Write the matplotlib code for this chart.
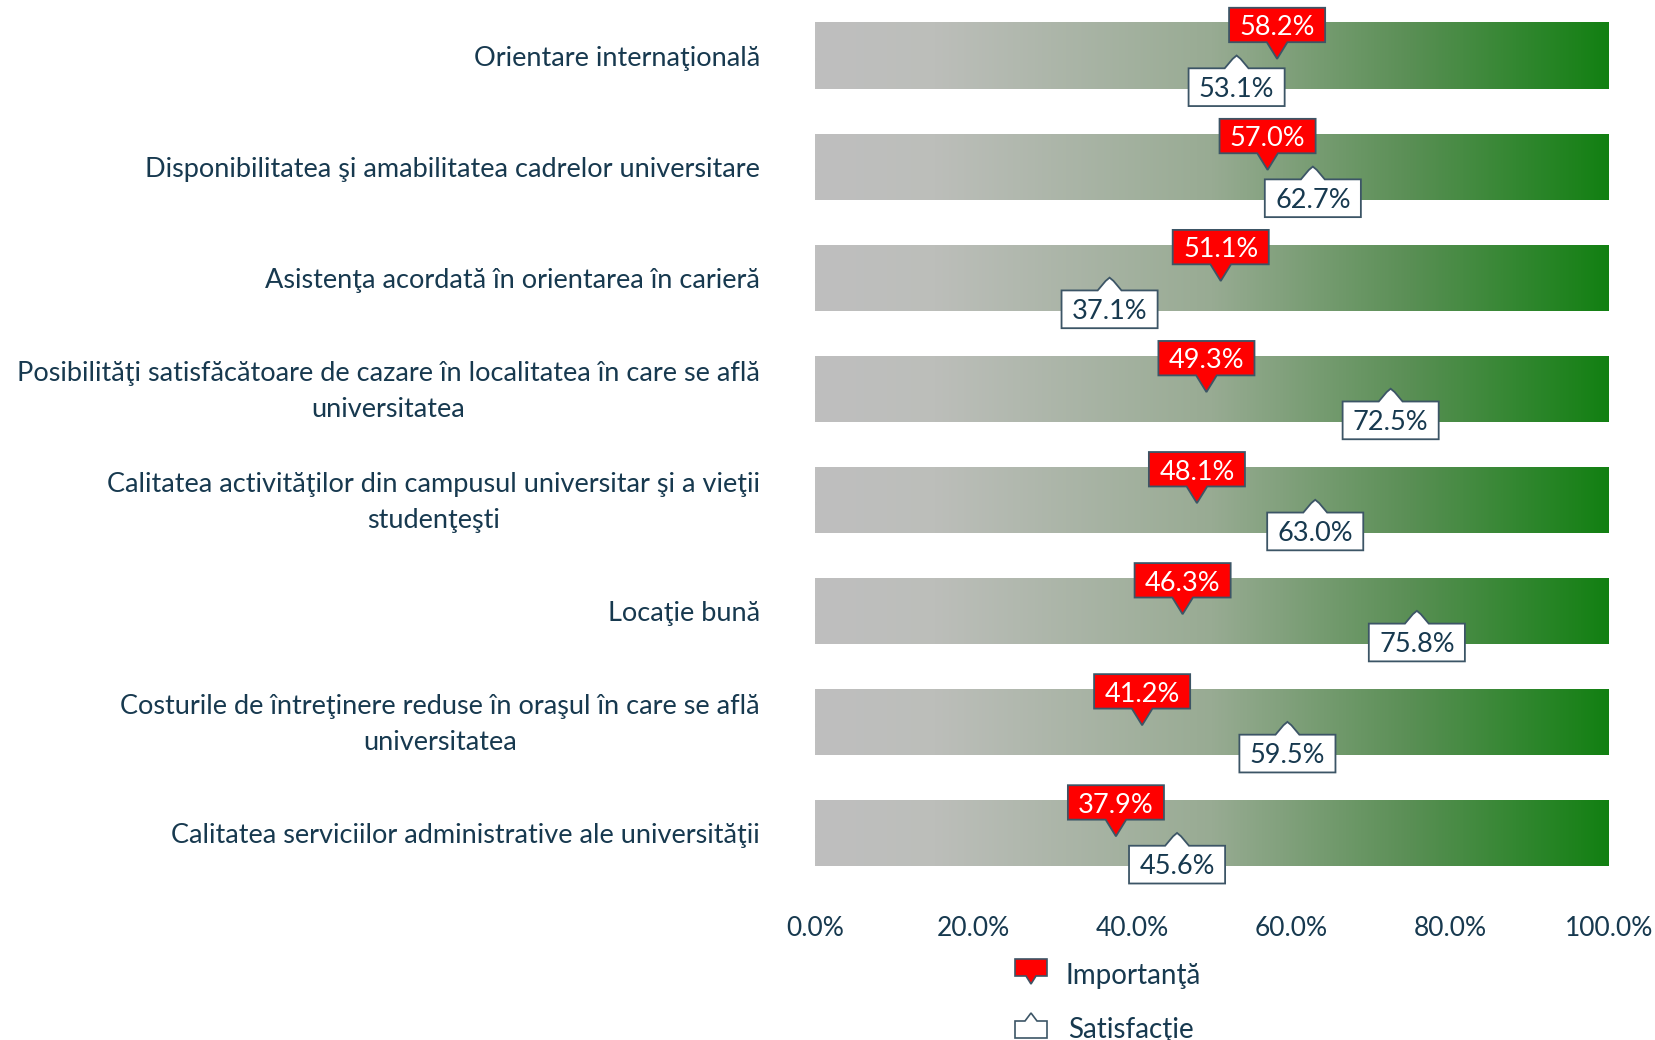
import numpy as np
import matplotlib
matplotlib.use("Agg")
import matplotlib.pyplot as plt
from matplotlib.patches import Polygon
from matplotlib.colors import LinearSegmentedColormap

categories = [
    "Orientare internaţională",
    "Disponibilitatea şi amabilitatea cadrelor universitare",
    "Asistenţa acordată în orientarea în carieră",
    "Posibilităţi satisfăcătoare de cazare în localitatea în care se află\nuniversitatea",
    "Calitatea activităţilor din campusul universitar şi a vieţii\nstudenţeşti",
    "Locaţie bună",
    "Costurile de întreţinere reduse în oraşul în care se află\nuniversitatea",
    "Calitatea serviciilor administrative ale universităţii",
]
importanta = [58.2, 57.0, 51.1, 49.3, 48.1, 46.3, 41.2, 37.9]
satisfactie = [53.1, 62.7, 37.1, 72.5, 63.0, 75.8, 59.5, 45.6]
xticks = [0, 20, 40, 60, 80, 100]
legend_labels = ["Importanţă", "Satisfacţie"]

TXT = "#17394F"
EDGE = "#3C5566"
RED = "#FF0000"
plt.rcParams['font.family'] = ['Lato', 'DejaVu Sans']

W, H = 1655, 1040
fig = plt.figure(figsize=(W / 100, H / 100), dpi=100)
ax_left, ax_right = 815, 1609
ax_top, ax_bot = 0, 888.5
ax = fig.add_axes([ax_left / W, 1 - ax_bot / H, (ax_right - ax_left) / W, (ax_bot - ax_top) / H])
n = len(categories)
for s in ax.spines.values():
    s.set_visible(False)

cmap = LinearSegmentedColormap.from_list("g", [
    (0.0, (191/255, 191/255, 191/255)),
    (0.15, (188/255, 190/255, 186/255)),
    (0.5, (152/255, 171/255, 147/255)),
    (0.75, (90/255, 143/255, 85/255)),
    (1.0, (18/255, 128/255, 18/255)),
])
grad = np.linspace(0, 1, 512).reshape(1, -1)
bh = 0.595
ys = np.arange(n)
bars = ax.barh(ys, [100] * n, height=bh, color="none", edgecolor="none")
for b in bars:
    x0, y0 = b.get_x(), b.get_y()
    im = ax.imshow(grad, cmap=cmap, aspect="auto", interpolation="bilinear",
                   extent=(x0, x0 + b.get_width(), y0 + b.get_height(), y0), zorder=1)
    im.set_clip_path(b)
ax.set_ylim(n - 0.5, -0.5)
ax.set_xlim(0, 100)

ax.set_xticks(xticks)
ax.set_xticklabels([f"{t:.1f}%" for t in xticks], color=TXT, fontsize=19)
ax.tick_params(axis="x", length=0, pad=20)
ax.set_yticks([])

for i, c in enumerate(categories):
    ax.text(-55 / 794, i + 0.025, c, transform=ax.get_yaxis_transform(), ha="right", va="center",
            multialignment="center", color=TXT, fontsize=19.5, linespacing=1.55)

bw = 12.1 / 2   # half box width (data units)
pw = 1.3        # half pointer width
for i, (vi, vs) in enumerate(zip(importanta, satisfactie)):
    # red callout, above, pointer down
    top, bot, tip = i - 0.43, i - 0.12, i + 0.03
    poly = [(vi - bw, top), (vi + bw, top), (vi + bw, bot), (vi + pw, bot), (vi, tip),
            (vi - pw, bot), (vi - bw, bot)]
    ax.add_patch(Polygon(poly, closed=True, facecolor=RED, edgecolor=EDGE, lw=1.3, zorder=4))
    ax.text(vi, (top + bot) / 2 + 0.025, f"{vi:.1f}%", ha="center", va="center",
            color="white", fontsize=19.5, zorder=5)
    # white callout, below, pointer up
    top, bot, tip = i + 0.115, i + 0.455, i + 0.0
    pwl = 1.5
    poly = [(vs - bw, top), (vs - pwl, top), (vs - 0.5, tip + 0.03), (vs, tip), (vs + 0.5, tip + 0.03),
            (vs + pwl, top), (vs + bw, top), (vs + bw, bot), (vs - bw, bot)]
    ax.add_patch(Polygon(poly, closed=True, facecolor="white", edgecolor=EDGE, lw=1.3, zorder=4))
    ax.text(vs, (top + bot) / 2 + 0.02, f"{vs:.1f}%", ha="center", va="center",
            color=TXT, fontsize=19.5, zorder=5)

# legend
def fx(px):
    return px / W

def fy(py):
    return 1 - py / H

x0, x1 = 1015, 1047
t, b_, tip = 959, 976, 984
xm = (x0 + x1) / 2
red_icon = [(x0, t), (x1, t), (x1, b_), (xm + 5, b_), (xm, tip), (xm - 5, b_), (x0, b_)]
fig.patches.append(Polygon([(fx(x), fy(y)) for x, y in red_icon], closed=True,
                           transform=fig.transFigure, facecolor=RED, edgecolor=EDGE, lw=1.2))
fig.text(fx(1066), fy(976), legend_labels[0], color=TXT, fontsize=20, va="center", ha="left")
t, b_, tip = 1021, 1038, 1013
wicon = [(x0, t), (xm - 6, t), (xm, tip), (xm + 6, t), (x1, t), (x1, b_), (x0, b_)]
fig.patches.append(Polygon([(fx(x), fy(y)) for x, y in wicon], closed=True,
                           transform=fig.transFigure, facecolor="white", edgecolor=EDGE, lw=1.2))
fig.text(fx(1068), fy(1030), legend_labels[1], color=TXT, fontsize=20, va="center", ha="left")

fig.savefig("out.png", dpi=100)
